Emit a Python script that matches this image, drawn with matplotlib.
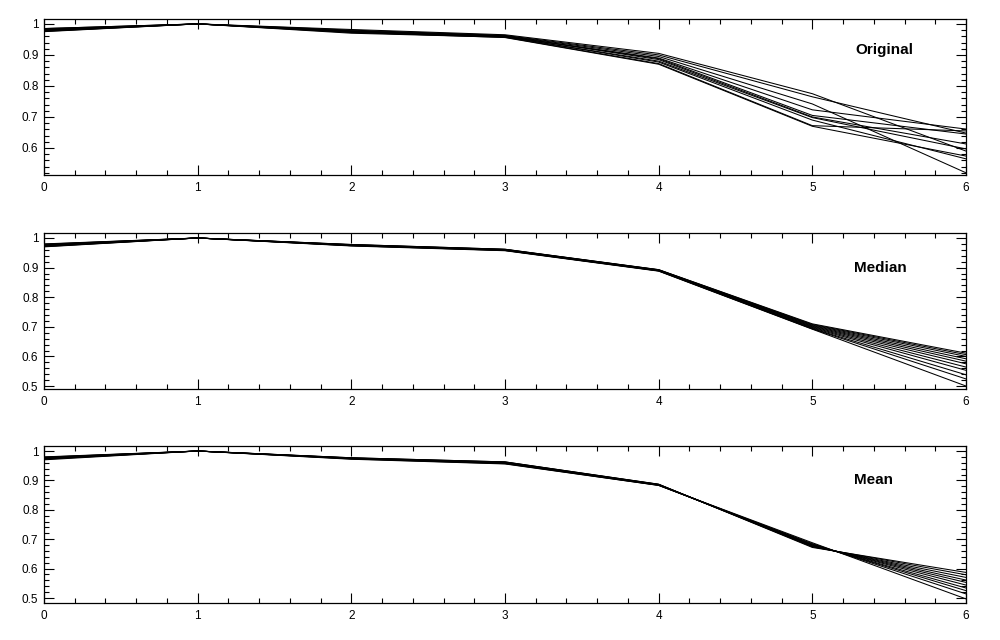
import numpy as np
import matplotlib
matplotlib.use("Agg")
from matplotlib import pyplot as plt
from matplotlib.ticker import MultipleLocator, FuncFormatter

x = [0, 1, 2, 3, 4, 5, 6]

# normalised curves, one list per line
original = [
    [0.985, 1.0, 0.982, 0.965, 0.905, 0.775, 0.590],
    [0.982, 1.0, 0.980, 0.963, 0.900, 0.765, 0.648],
    [0.980, 1.0, 0.978, 0.962, 0.895, 0.742, 0.520],
    [0.978, 1.0, 0.976, 0.960, 0.890, 0.723, 0.661],
    [0.976, 1.0, 0.975, 0.960, 0.888, 0.705, 0.645],
    [0.985, 1.0, 0.977, 0.961, 0.885, 0.700, 0.613],
    [0.975, 1.0, 0.972, 0.958, 0.880, 0.698, 0.597],
    [0.983, 1.0, 0.974, 0.959, 0.877, 0.690, 0.565],
    [0.977, 1.0, 0.970, 0.957, 0.872, 0.672, 0.655],
    [0.980, 1.0, 0.973, 0.956, 0.870, 0.670, 0.574],
]

median = [
    [0.980, 1.0, 0.978, 0.962, 0.893, 0.710, 0.611],
    [0.979, 1.0, 0.978, 0.962, 0.893, 0.708, 0.606],
    [0.978, 1.0, 0.977, 0.961, 0.892, 0.706, 0.600],
    [0.977, 1.0, 0.977, 0.961, 0.892, 0.704, 0.592],
    [0.976, 1.0, 0.976, 0.960, 0.891, 0.702, 0.584],
    [0.975, 1.0, 0.976, 0.960, 0.891, 0.700, 0.575],
    [0.974, 1.0, 0.975, 0.959, 0.890, 0.698, 0.564],
    [0.973, 1.0, 0.975, 0.959, 0.890, 0.696, 0.553],
    [0.972, 1.0, 0.974, 0.958, 0.889, 0.694, 0.538],
    [0.971, 1.0, 0.974, 0.958, 0.889, 0.693, 0.524],
    [0.970, 1.0, 0.973, 0.957, 0.888, 0.692, 0.500],
]

mean = [
    [0.980, 1.0, 0.977, 0.963, 0.887, 0.672, 0.587],
    [0.979, 1.0, 0.977, 0.963, 0.887, 0.674, 0.579],
    [0.978, 1.0, 0.976, 0.962, 0.886, 0.675, 0.570],
    [0.977, 1.0, 0.976, 0.961, 0.886, 0.677, 0.561],
    [0.976, 1.0, 0.975, 0.961, 0.885, 0.678, 0.553],
    [0.975, 1.0, 0.975, 0.960, 0.885, 0.680, 0.544],
    [0.974, 1.0, 0.974, 0.959, 0.884, 0.681, 0.534],
    [0.973, 1.0, 0.974, 0.958, 0.884, 0.683, 0.525],
    [0.972, 1.0, 0.973, 0.957, 0.883, 0.685, 0.514],
    [0.970, 1.0, 0.972, 0.956, 0.883, 0.688, 0.497],
]

panels = [
    ("Original", original, (0.513, 1.016), [1.0, 0.9, 0.8, 0.7, 0.6], (5.47, 0.916)),
    ("Median", median, (0.490, 1.017), [1.0, 0.9, 0.8, 0.7, 0.6, 0.5], (5.44, 0.898)),
    ("Mean", mean, (0.483, 1.017), [1.0, 0.9, 0.8, 0.7, 0.6, 0.5], (5.40, 0.903)),
]

def fmt_tick(v, pos):
    s = "%g" % round(v, 3)
    return s

plt.rcParams['font.family'] = ['Liberation Sans', 'DejaVu Sans']

fig = plt.figure(figsize=(10, 6.4), dpi=100)
fig.patch.set_facecolor('white')

boxes = [
    [0.044, 0.7266, 0.922, 0.2438],
    [0.044, 0.3922, 0.922, 0.2438],
    [0.044, 0.0578, 0.922, 0.2453],
]

for box, (name, curves, ylim, yt, lab) in zip(boxes, panels):
    ax = fig.add_axes(box)
    for c in curves:
        ax.plot(x, c, color='black', lw=0.75)
    ax.set_xlim(0, 6)
    ax.set_ylim(*ylim)
    ax.set_xticks(x)
    ax.set_yticks(yt)
    ax.xaxis.set_minor_locator(MultipleLocator(0.2))
    ax.yaxis.set_minor_locator(MultipleLocator(0.02))
    ax.xaxis.set_major_formatter(FuncFormatter(fmt_tick))
    ax.yaxis.set_major_formatter(FuncFormatter(fmt_tick))
    ax.tick_params(which='both', direction='in', top=True, right=True,
                   labelsize=8.5, width=0.8, colors='black')
    ax.tick_params(which='major', length=7)
    ax.tick_params(which='minor', length=3.5)
    ax.tick_params(axis='x', pad=5)
    ax.tick_params(axis='y', pad=4)
    for sp in ax.spines.values():
        sp.set_linewidth(0.9)
    ax.text(lab[0], lab[1], name, ha='center', va='center',
            fontsize=11, fontweight='bold')

plt.savefig('out.png', dpi=100)
